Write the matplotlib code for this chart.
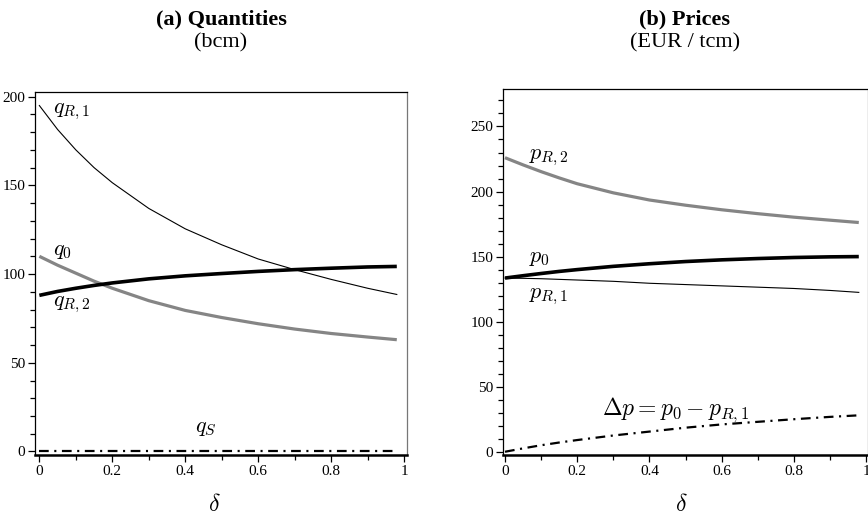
import numpy as np
import matplotlib
matplotlib.use('Agg')
import matplotlib.pyplot as plt
from matplotlib.ticker import MultipleLocator

plt.rcParams['font.family'] = ['Liberation Serif', 'DejaVu Serif']
plt.rcParams['mathtext.fontset'] = 'cm'
plt.rcParams['lines.scale_dashes'] = False

# delta grid
delta = [0.0, 0.05, 0.1, 0.15, 0.2, 0.3, 0.4, 0.5, 0.6, 0.7, 0.8, 0.9, 0.98]

# (a) quantities, bcm
q_r1 = [195, 181.5, 170, 160, 151.5, 137, 125.5, 116.5, 108.5, 102.5, 97, 92, 88.5]
q_0 = [88, 90.2, 92, 93.6, 95, 97.3, 99, 100.3, 101.5, 102.5, 103.3, 104, 104.3]
q_r2 = [110, 105, 100.5, 96, 92, 85, 79.5, 75.5, 72, 69, 66.5, 64.5, 63]
q_s = [0, 0, 0, 0, 0, 0, 0, 0, 0, 0, 0, 0, 0]

# (b) prices, EUR / tcm
p_r2 = [226, 220.5, 215.3, 210.5, 206, 199, 193.5, 189.5, 186, 183, 180.3, 178, 176.2]
p_0 = [133.5, 135.3, 137, 138.6, 140, 142.5, 144.5, 146.2, 147.5, 148.5, 149.3, 149.8, 150]
p_r1 = [133.5, 133.3, 133, 132.5, 132, 131, 129.5, 128.5, 127.5, 126.5, 125.5, 124, 122.5]
dp = [0, 2.6, 5, 7.1, 9, 12.5, 15.5, 18.5, 21, 23, 25, 26.8, 28]

grey = '#858585'
dashdot = (0, (7, 4, 1.5, 4))

fig = plt.figure(figsize=(8.68, 5.23), dpi=100)
ax1 = fig.add_axes([0.0403, 0.130, 0.4286, 0.694])
ax2 = fig.add_axes([0.5795, 0.130, 0.4205, 0.6998])


def style_axes(ax, ylim, xlim):
    ax.set_xlim(*xlim)
    ax.set_ylim(*ylim)
    ax.xaxis.set_minor_locator(MultipleLocator(0.1))
    ax.yaxis.set_major_locator(MultipleLocator(50))
    ax.yaxis.set_minor_locator(MultipleLocator(10))
    ax.set_xticks([0, 0.2, 0.4, 0.6, 0.8, 1])
    ax.set_xticklabels(['0', '0.2', '0.4', '0.6', '0.8', '1'])
    ax.tick_params(which='major', direction='out', length=5, width=0.9, labelsize=11, pad=2)
    ax.tick_params(which='minor', direction='out', length=3.5, width=0.9)
    ax.spines['bottom'].set_linewidth(1.8)
    ax.spines['left'].set_linewidth(0.9)
    ax.spines['top'].set_linewidth(0.9)
    ax.spines['right'].set_linewidth(0.9)
    ax.spines['right'].set_color('#777777')


style_axes(ax1, (-2, 202.6), (-0.012, 1.008))
style_axes(ax2, (-2.5, 278.8), (-0.0055, 1.0055))

ax1.plot(delta, q_r1, color='black', lw=0.8)
ax1.plot(delta, q_r2, color=grey, lw=2.3, solid_capstyle='butt')
ax1.plot(delta, q_0, color='black', lw=2.6, solid_capstyle='butt')
ax1.plot(delta, q_s, color='black', lw=1.6, linestyle=dashdot)

ax1.text(0.0375, 190.6, r'$q_{R,1}$', fontsize=16)
ax1.text(0.0375, 110.6, r'$q_0$', fontsize=16)
ax1.text(0.0375, 82, r'$q_{R,2}$', fontsize=16)
ax1.text(0.427, 11, r'$q_S$', fontsize=16)

ax2.plot(delta, p_r2, color=grey, lw=2.3, solid_capstyle='butt')
ax2.plot(delta, p_r1, color='black', lw=0.8)
ax2.plot(delta, p_0, color='black', lw=2.6, solid_capstyle='butt')
ax2.plot(delta, dp, color='black', lw=1.6, linestyle=dashdot)

ax2.text(0.066, 225, r'$p_{R,2}$', fontsize=16)
ax2.text(0.066, 146, r'$p_0$', fontsize=16)
ax2.text(0.066, 118, r'$p_{R,1}$', fontsize=16)
ax2.text(0.27, 28.2, r'$\Delta p =p_0 - p_{R,1}$', fontsize=17)

# titles and axis labels
fig.text(0.2546, 0.9532, '(a) Quantities', fontsize=16, weight='bold', ha='center', va='baseline')
fig.text(0.2546, 0.9092, '(bcm)', fontsize=16, ha='center', va='baseline')
fig.text(0.789, 0.9532, '(b) Prices', fontsize=16, weight='bold', ha='center', va='baseline')
fig.text(0.789, 0.9092, '(EUR / tcm)', fontsize=16, ha='center', va='baseline')

fig.text(0.2465, 0.034, r'$\delta$', fontsize=17, ha='center', va='center')
fig.text(0.7846, 0.034, r'$\delta$', fontsize=17, ha='center', va='center')

fig.savefig('out.png', dpi=100)
